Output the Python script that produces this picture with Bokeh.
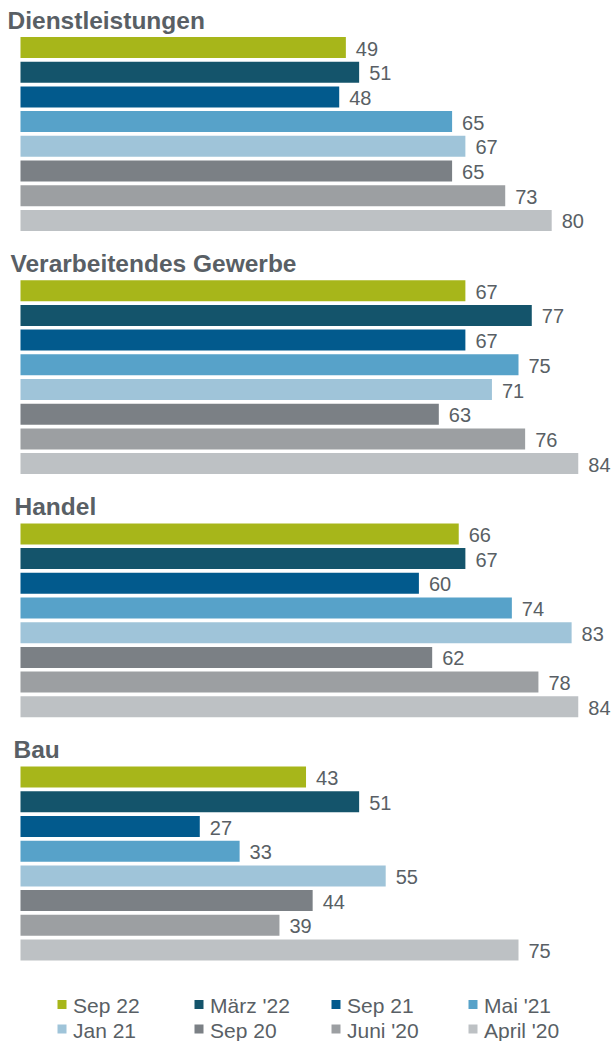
from bokeh.plotting import figure
from bokeh.models import Range1d, ColumnDataSource
from bokeh.core.properties import value
from bokeh.embed import file_html
from bokeh.resources import INLINE

# ---- data ----
groups = ["Dienstleistungen", "Verarbeitendes Gewerbe", "Handel", "Bau"]
series = ["Sep 22", "März '22", "Sep 21", "Mai '21", "Jan 21", "Sep 20", "Juni '20", "April '20"]
dienstleistungen = [49, 51, 48, 65, 67, 65, 73, 80]
verarbeitendes = [67, 77, 67, 75, 71, 63, 76, 84]
handel = [66, 67, 60, 74, 83, 62, 78, 84]
bau = [43, 51, 27, 33, 55, 44, 39, 75]
colors = ["#a7b61a", "#14546b", "#025a8d", "#57a2c9", "#9fc4d9", "#7b8085", "#9c9fa2", "#bdc1c4"]

group_values = [dienstleistungen, verarbeitendes, handel, bau]

# ---- layout (pixels) ----
W, H = 612, 1041
X0_PX = 20.0          # px of value 0
SCALE = 6.64          # px per unit
GROUP_STEP = 243.2
BAR_STEP = 24.7
FIRST_BAR = 47.0
BAR_H = 21

def px2x(px):
    return (px - X0_PX) / SCALE

TEXT = "#595f65"
FONT = value("Liberation Sans")

p = figure(width=W, height=H, output_backend="svg", toolbar_location=None,
           x_range=Range1d(px2x(0), px2x(W)),
           y_range=Range1d(H, 0),
           x_axis_location=None, y_axis_location=None, min_border=0)
p.grid.visible = False
p.outline_line_color = None

ys, vals, cols, labels = [], [], [], []
for g, gv in enumerate(group_values):
    for j, v in enumerate(gv):
        ys.append(FIRST_BAR + g * GROUP_STEP + j * BAR_STEP)
        vals.append(v)
        cols.append(colors[j])
        labels.append(str(v))

src = ColumnDataSource(dict(y=ys, v=vals, c=cols, t=labels))
p.hbar(y="y", left=0, right="v", height=BAR_H, fill_color="c", line_color=None, source=src)
p.text(x="v", y="y", text="t", source=src, x_offset=10, y_offset=1,
       text_align="left", text_baseline="middle", text_font=FONT,
       text_font_size="20px", text_color=TEXT)

# group titles
title_px = [7, 10, 14, 13]
tsrc = ColumnDataSource(dict(
    x=[px2x(t) for t in title_px],
    y=[FIRST_BAR + g * GROUP_STEP - 27.5 for g in range(len(groups))],
    t=groups))
p.text(x="x", y="y", text="t", source=tsrc, text_align="left", text_baseline="middle",
       text_font=FONT, text_font_style="bold", text_font_size="24.5px", text_color=TEXT)

# legend (manual, 4 columns x 2 rows)
lx, ly, lt = [], [], []
for i, s in enumerate(series):
    col, row = i % 4, i // 4
    lx.append(px2x(61.5 + col * 137))
    ly.append(1004 + row * 24.5)
    lt.append(s)
lsrc = ColumnDataSource(dict(x=lx, y=ly, t=lt, c=colors))
p.scatter(x="x", y="y", marker="square", size=9, fill_color="c", line_color=None, source=lsrc)
p.text(x="x", y="y", text="t", source=lsrc, x_offset=11, y_offset=1,
       text_align="left", text_baseline="middle", text_font=FONT,
       text_font_size="21px", text_color=TEXT)

open("out.html", "w").write(file_html(p, INLINE))
